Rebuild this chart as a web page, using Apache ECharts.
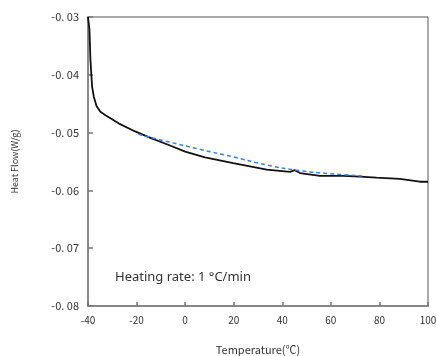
<!DOCTYPE html>
<html>
<head>
<meta charset="utf-8">
<script src="https://cdn.jsdelivr.net/npm/echarts@6/dist/echarts.min.js"></script>
<style>html,body{margin:0;padding:0;background:#fff;}#c{width:436px;height:356px;}</style>
</head>
<body>
<div id="c"></div>
<script>
const curveTemp = [-40, -39.9, -39.4, -39.0, -38.3, -37.6, -36.5, -34.9, -32.8, -27.4, -20.6, -13.8, -7.0, 0.0, 8.2, 19.8, 33.6, 43.2, 45.2, 47.3, 55.5, 65.1, 71.9, 78.8, 88.4, 96.6, 100];
const curveFlow = [-0.0300, -0.0303, -0.0322, -0.0374, -0.0421, -0.0438, -0.0454, -0.0464, -0.0470, -0.0484, -0.0498, -0.0510, -0.0521, -0.0533, -0.0543, -0.0553, -0.0564, -0.0568, -0.0565, -0.0570, -0.0575, -0.0575, -0.0576, -0.0578, -0.0580, -0.0585, -0.0585];
const baseTemp = [-19.2, -6.9, 6.1, 19.7, 33.6, 47.3, 59.6, 73.2];
const baseFlow = [-0.0503, -0.0516, -0.0529, -0.0542, -0.0556, -0.0566, -0.0571, -0.0575];
const xTicks = [-40, -20, 0, 20, 40, 60, 80, 100];
const yTicks = [-0.08, -0.07, -0.06, -0.05, -0.04, -0.03];
const xTitle = 'Temperature(℃)';
const yTitle = 'Heat Flow(W/g)';
const note = 'Heating rate: 1 °C/min';

const chart = echarts.init(document.getElementById('c'), null, {renderer: 'canvas'});
const lblFont = '"Noto Sans CJK JP", "Noto Sans", sans-serif';
chart.setOption({
  animation: false,
  backgroundColor: '#fff',
  grid: {left: 88, top: 17, right: 8, bottom: 50, show: true, borderColor: '#555', borderWidth: 1,
    containLabel: false, outerBoundsMode: 'none'},
  xAxis: {
    type: 'value', min: xTicks[0], max: xTicks[xTicks.length - 1], interval: 20,
    name: xTitle, nameLocation: 'middle', nameGap: 38,
    nameTextStyle: {fontFamily: lblFont, fontSize: 11, color: '#333'},
    axisLine: {show: true, onZero: false, lineStyle: {color: '#888', width: 2}},
    axisTick: {show: true, inside: true, length: 4, lineStyle: {color: '#777', width: 1.5}},
    axisLabel: {fontFamily: lblFont, fontSize: 10, color: '#333', margin: 9},
    splitLine: {show: false}
  },
  yAxis: {
    type: 'value', min: yTicks[0], max: yTicks[yTicks.length - 1], interval: 0.01,
    name: yTitle, nameLocation: 'middle', nameGap: 69, nameRotate: 90,
    nameTextStyle: {fontFamily: lblFont, fontSize: 9, color: '#333'},
    axisLine: {show: true, onZero: false, lineStyle: {color: '#888', width: 2}},
    axisTick: {show: true, inside: true, length: 5, lineStyle: {color: '#777', width: 1.5}},
    axisLabel: {fontFamily: lblFont, fontSize: 11, color: '#333', margin: 9,
      formatter: v => v.toFixed(2).replace('.', '. ')},
    splitLine: {show: false}
  },
  graphic: [{
    type: 'text', left: 115, top: 271,
    style: {text: note, fontFamily: '"Noto Sans", sans-serif', fontSize: 13, fill: '#333'}
  }],
  series: [
    {
      type: 'line', name: 'curve', showSymbol: false, smooth: false,
      data: curveTemp.map((t, i) => [t, curveFlow[i]]),
      lineStyle: {color: '#111', width: 1.8}, z: 3
    },
    {
      type: 'line', name: 'baseline', showSymbol: false, smooth: true,
      data: baseTemp.map((t, i) => [t, baseFlow[i]]),
      lineStyle: {color: '#3b7fe6', width: 1.5, type: [4, 3]}, z: 4
    }
  ]
});
</script>
</body>
</html>
